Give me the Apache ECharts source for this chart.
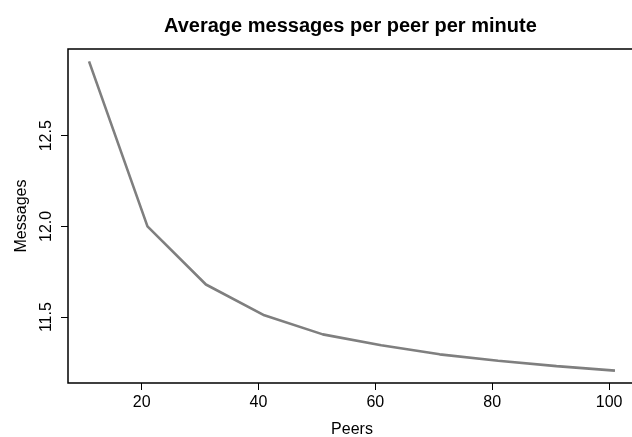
<!DOCTYPE html>
<html>
<head>
<meta charset="utf-8">
<script src="https://cdn.jsdelivr.net/npm/echarts@6/dist/echarts.min.js"></script>
<style>
  html, body { margin: 0; padding: 0; background: #fff; }
  #chart { width: 632px; height: 437px; }
</style>
</head>
<body>
<div id="chart"></div>
<script>
var peers = [11, 21, 31, 41, 51, 61, 71, 81, 91, 101]
var messages = [12.91, 12.00, 11.68, 11.51, 11.405, 11.345, 11.295, 11.26, 11.23, 11.205]
var xTicks = [20, 40, 60, 80, 100]
var yTicks = [11.5, 12.0, 12.5]

var points = []
for (var i = 0; i < peers.length; i++) {
  points.push([peers[i], messages[i]])
}

var font = 'Liberation Sans, Arial, Helvetica, sans-serif'
var chart = echarts.init(document.getElementById('chart'), null, { renderer: 'canvas' })

chart.setOption({
  animation: false,
  backgroundColor: '#fff',
  title: {
    text: 'Average messages per peer per minute',
    left: 159,
    top: 11,
    textStyle: { fontFamily: font, fontSize: 20, fontWeight: 'bold', color: '#000' }
  },
  grid: {
    left: 68,
    right: -4,
    top: 49,
    bottom: 54,
    show: true,
    borderColor: '#000',
    borderWidth: 1.5,
    containLabel: false,
    outerBoundsMode: 'none'
  },
  xAxis: {
    type: 'value',
    min: 7.4,
    max: 104.6,
    name: 'Peers',
    nameLocation: 'middle',
    nameGap: 39,
    nameTextStyle: { fontFamily: font, fontSize: 16, color: '#000' },
    axisLine: { show: false },
    axisTick: { show: true, length: 7, customValues: xTicks, lineStyle: { color: '#000', width: 1 } },
    axisLabel: { customValues: xTicks, margin: 12, fontFamily: font, fontSize: 16, color: '#000' },
    splitLine: { show: false }
  },
  yAxis: {
    type: 'value',
    min: 11.137,
    max: 12.978,
    name: 'Messages',
    nameLocation: 'middle',
    nameRotate: 90,
    nameGap: 38,
    nameTextStyle: { fontFamily: font, fontSize: 16, color: '#000' },
    axisLine: { show: false },
    axisTick: { show: true, length: 7, customValues: yTicks, lineStyle: { color: '#000', width: 1 } },
    axisLabel: {
      customValues: yTicks,
      rotate: 90,
      margin: 13,
      fontFamily: font,
      fontSize: 16,
      color: '#000',
      formatter: function(v) { return Number(v).toFixed(1) }
    },
    splitLine: { show: false }
  },
  series: [{
    type: 'line',
    data: points,
    showSymbol: false,
    symbol: 'none',
    lineStyle: { color: '#7f7f7f', width: 2.6 }
  }]
})
</script>
</body>
</html>
